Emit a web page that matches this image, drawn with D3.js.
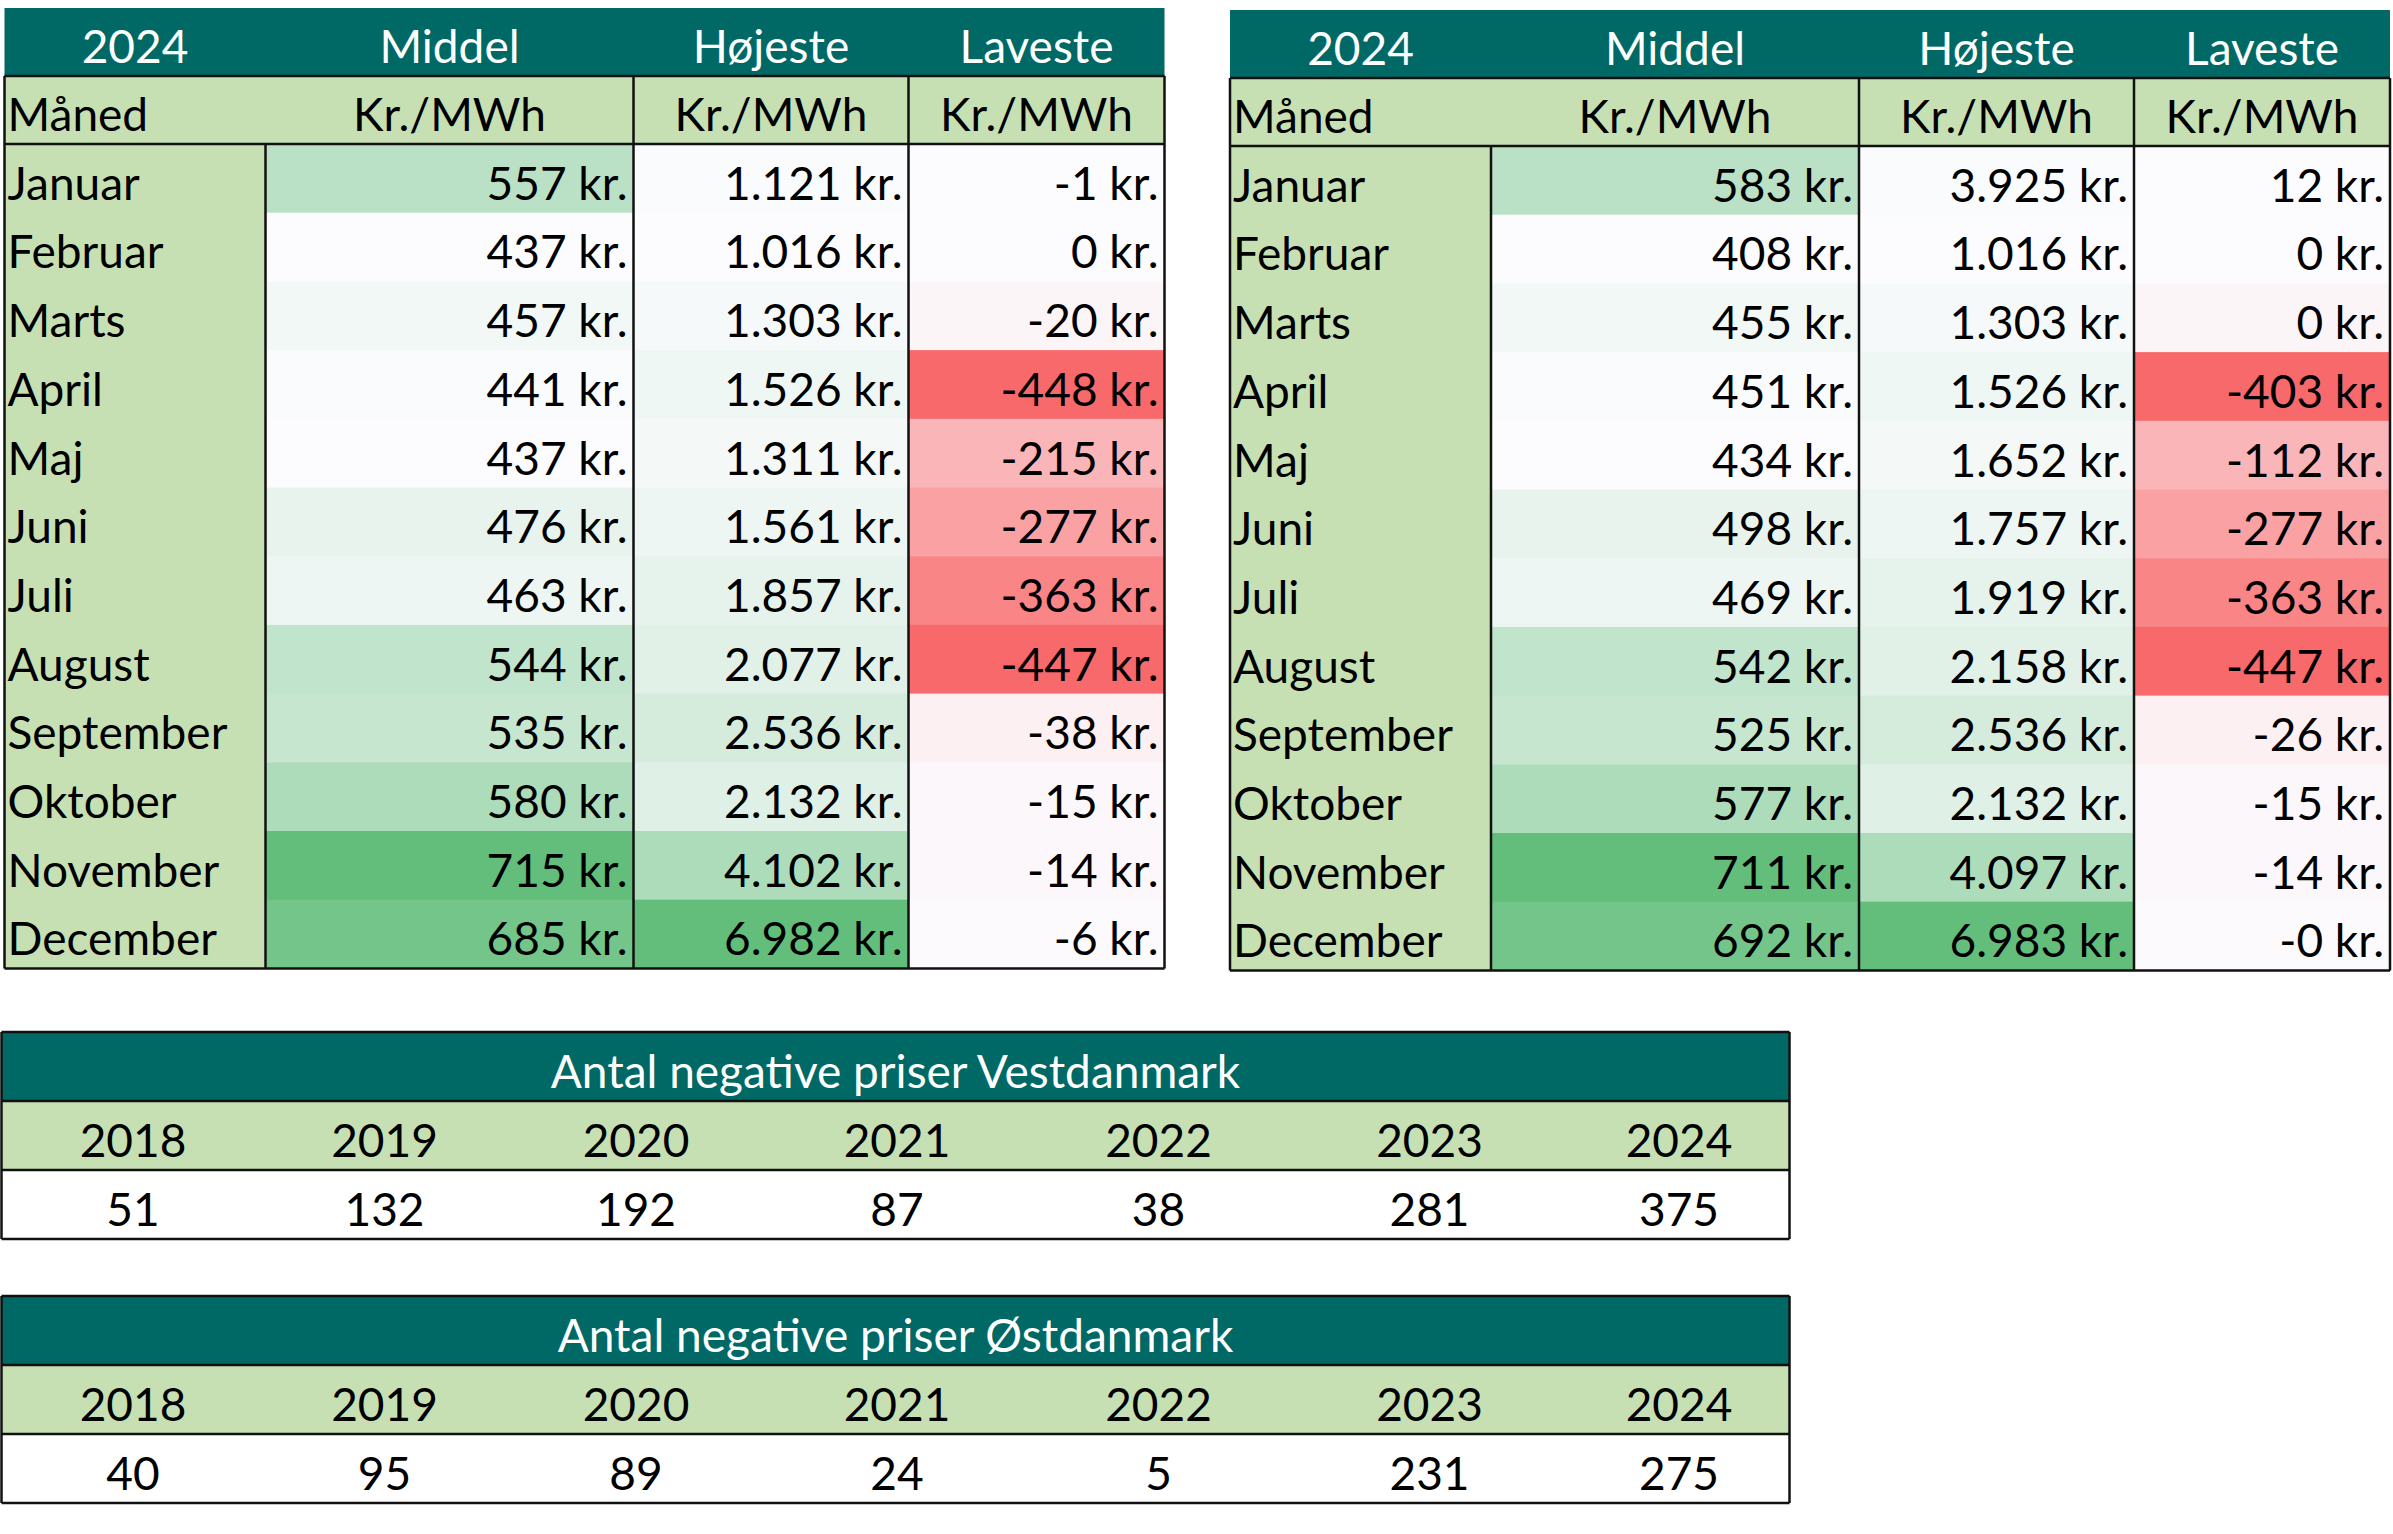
<!DOCTYPE html>
<html>
<head>
<meta charset="utf-8">
<script src="https://cdn.jsdelivr.net/npm/d3@7"></script>
<style>
  body { margin: 0; background: #fff; }
  text { font-family: Lato, sans-serif; font-size: 46px; }
</style>
</head>
<body>
<div id="app"></div>
<script>
const w = 2393;
const h = 1534;

// monthly spot prices, kr./MWh
const months = ["Januar", "Februar", "Marts", "April", "Maj", "Juni", "Juli", "August", "September", "Oktober", "November", "December"];
const columnNames = ["Middel", "Højeste", "Laveste"];

const westMiddel = [557, 437, 457, 441, 437, 476, 463, 544, 535, 580, 715, 685];
const westHigh = [1121, 1016, 1303, 1526, 1311, 1561, 1857, 2077, 2536, 2132, 4102, 6982];
const westLow = [-1, 0, -20, -448, -215, -277, -363, -447, -38, -15, -14, -6];

const eastMiddel = [583, 408, 455, 451, 434, 498, 469, 542, 525, 577, 711, 692];
const eastHigh = [3925, 1016, 1303, 1526, 1652, 1757, 1919, 2158, 2536, 2132, 4097, 6983];
const eastLow = [12, 0, 0, -403, -112, -277, -363, -447, -26, -15, -14, -0];

// number of hours with negative prices
const years = ["2018", "2019", "2020", "2021", "2022", "2023", "2024"];
const negWest = [51, 132, 192, 87, 38, 281, 375];
const negEast = [40, 95, 89, 24, 5, 231, 275];

const teal = "#006966";
const lightGreen = "#C6E0B4";
const lineColor = "#111";

const svg = d3.select('#app')
  .append('svg')
  .attr('width', w)
  .attr('height', h);

const kr = (v) => (v < 0 || Object.is(v, -0) ? "-" : "") + d3.format(",")(Math.abs(v)).replace(/,/g, ".") + " kr.";

// excel-style 2 colour scales
const greenScale = (vals) => d3.scaleLinear().domain(d3.extent(vals)).range(["#FCFCFF", "#63BE7B"]);
const redScale = (vals) => d3.scaleLinear().domain(d3.extent(vals)).range(["#F8696B", "#FCFCFF"]);

// both tables carry the same cell shading (taken from the first table)
const shadeScales = [greenScale(westMiddel), greenScale(westHigh), redScale(westLow)];
const shadeValues = [westMiddel, westHigh, westLow];

//////////MONTH TABLES//////////

const colWidths = [261, 368, 275, 256];
const headH = 68;
const rowH = 68.7;

const line = (g, x1, y1, x2, y2) => {
  g.append('line')
    .attr('x1', x1).attr('y1', y1)
    .attr('x2', x2).attr('y2', y2)
    .attr('stroke', lineColor)
    .attr('stroke-width', 2.5);
};

const drawMonthTable = (x0, y0, series) => {
  const g = svg.append('g').attr('transform', `translate(${x0},${y0})`);
  const edges = d3.cumsum([0, ...colWidths]);
  const tableW = edges[edges.length - 1];
  const bodyTop = 2 * headH;

  const y = d3.scaleBand()
    .domain(months)
    .range([bodyTop, bodyTop + months.length * rowH]);
  const bodyBottom = y.range()[1];

  // header
  g.append('rect').attr('x', 0).attr('y', 0).attr('width', tableW).attr('height', headH).attr('fill', teal);
  g.selectAll('text.head')
    .data(["2024", ...columnNames])
    .enter()
    .append('text')
    .attr('class', 'head')
    .attr('x', (d, i) => (edges[i] + edges[i + 1]) / 2)
    .attr('y', headH - 13)
    .attr('text-anchor', 'middle')
    .attr('fill', '#fff')
    .text((d) => d);

  // sub header
  g.append('rect').attr('x', 0).attr('y', headH).attr('width', tableW).attr('height', headH + 0.5).attr('fill', lightGreen);
  g.append('text').attr('x', 3).attr('y', bodyTop - 13).text("Måned");
  g.selectAll('text.unit')
    .data(columnNames)
    .enter()
    .append('text')
    .attr('class', 'unit')
    .attr('x', (d, i) => (edges[i + 1] + edges[i + 2]) / 2)
    .attr('y', bodyTop - 13)
    .attr('text-anchor', 'middle')
    .text("Kr./MWh");

  // month column
  g.append('rect').attr('x', 0).attr('y', bodyTop).attr('width', edges[1]).attr('height', bodyBottom - bodyTop).attr('fill', lightGreen);
  g.selectAll('text.month')
    .data(months)
    .enter()
    .append('text')
    .attr('class', 'month')
    .attr('x', 3)
    .attr('y', (d) => y(d) + y.bandwidth() - 13)
    .text((d) => d);

  // value cells
  series.forEach((vals, j) => {
    const col = g.append('g');
    col.selectAll('rect')
      .data(vals)
      .enter()
      .append('rect')
      .attr('x', edges[j + 1])
      .attr('y', (d, i) => y(months[i]))
      .attr('width', colWidths[j + 1])
      .attr('height', y.bandwidth() + 0.5)
      .attr('fill', (d, i) => shadeScales[j](shadeValues[j][i]));
    col.selectAll('text')
      .data(vals)
      .enter()
      .append('text')
      .attr('x', edges[j + 2] - 6)
      .attr('y', (d, i) => y(months[i]) + y.bandwidth() - 13)
      .attr('text-anchor', 'end')
      .text((d) => kr(d));
  });

  // borders
  line(g, 0, headH, tableW, headH);
  line(g, 0, bodyTop, tableW, bodyTop);
  line(g, 0, bodyBottom, tableW, bodyBottom);
  line(g, 0, headH, 0, bodyBottom);
  line(g, tableW, headH, tableW, bodyBottom);
  line(g, edges[1], bodyTop, edges[1], bodyBottom);
  line(g, edges[2], headH, edges[2], bodyBottom);
  line(g, edges[3], headH, edges[3], bodyBottom);
};

drawMonthTable(4.5, 8, [westMiddel, westHigh, westLow]);
drawMonthTable(1230, 10, [eastMiddel, eastHigh, eastLow]);

//////////NEGATIVE PRICE TABLES//////////

const yearWidths = [263, 240, 263, 259, 264, 278, 221];
const countRowH = 69;

const drawCountTable = (y0, title, counts) => {
  const g = svg.append('g').attr('transform', `translate(1.5,${y0})`);
  const edges = d3.cumsum([0, ...yearWidths]);
  const tableW = edges[edges.length - 1];
  const x = d3.scaleOrdinal().domain(years).range(years.map((d, i) => (edges[i] + edges[i + 1]) / 2));

  g.append('rect').attr('x', 0).attr('y', 0).attr('width', tableW).attr('height', countRowH).attr('fill', teal);
  g.append('rect').attr('x', 0).attr('y', countRowH).attr('width', tableW).attr('height', countRowH).attr('fill', lightGreen);

  g.append('text')
    .attr('x', tableW / 2)
    .attr('y', countRowH - 13)
    .attr('text-anchor', 'middle')
    .attr('fill', '#fff')
    .text(title);

  g.selectAll('text.year')
    .data(years)
    .enter()
    .append('text')
    .attr('class', 'year')
    .attr('x', (d) => x(d))
    .attr('y', 2 * countRowH - 13)
    .attr('text-anchor', 'middle')
    .text((d) => d);

  g.selectAll('text.count')
    .data(counts)
    .enter()
    .append('text')
    .attr('class', 'count')
    .attr('x', (d, i) => x(years[i]))
    .attr('y', 3 * countRowH - 13)
    .attr('text-anchor', 'middle')
    .text((d) => d);

  line(g, 0, 0, tableW, 0);
  line(g, 0, countRowH, tableW, countRowH);
  line(g, 0, 2 * countRowH, tableW, 2 * countRowH);
  line(g, 0, 3 * countRowH, tableW, 3 * countRowH);
  line(g, 0, 0, 0, 3 * countRowH);
  line(g, tableW, 0, tableW, 3 * countRowH);
};

drawCountTable(1032, "Antal negative priser Vestdanmark", negWest);
drawCountTable(1296, "Antal negative priser Østdanmark", negEast);
</script>
</body>
</html>
